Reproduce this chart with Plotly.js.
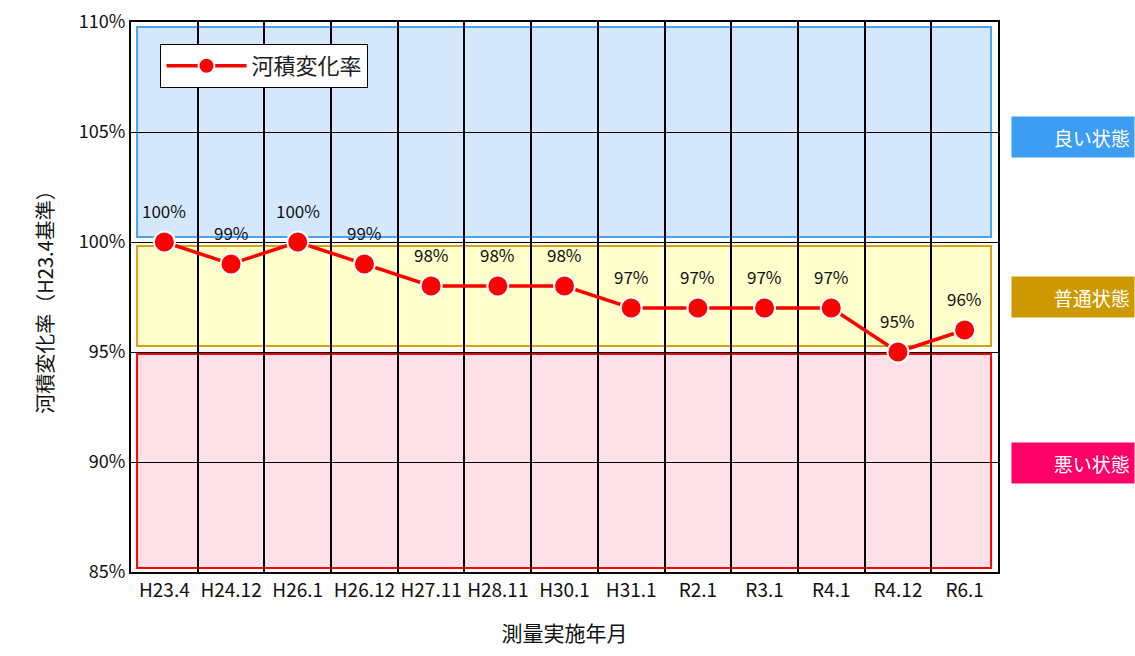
<!DOCTYPE html>
<html><head><meta charset="utf-8">
<script src="https://cdn.plot.ly/plotly-3.0.1.min.js"></script>
<style>html,body{margin:0;padding:0;background:#fff}#chart{width:1135px;height:656px}</style>
</head><body><div id="chart"></div>
<script>
const categories = ["H23.4","H24.12","H26.1","H26.12","H27.11","H28.11","H30.1","H31.1","R2.1","R3.1","R4.1","R4.12","R6.1"];
const rateValues = [100,99,100,99,98,98,98,97,97,97,97,95,96];
const seriesName = "河積変化率";
const stateLabels = ["良い状態","普通状態","悪い状態"];
const stateColors = ["#3d9df2","#cc9900","#ff0066"];
const FONT = "'Noto Sans CJK JP', 'Noto Sans', sans-serif";

const trace = {
  x: categories, y: rateValues, name: seriesName, type: "scatter", mode: "lines+markers",
  line: {color: "#ff0000", width: 3.5},
  marker: {color: "#ff0000", size: 21, line: {color: "#ffffff", width: 2}},
  cliponaxis: false
};

const labelAnns = categories.map((c,i)=>({
  x: c, y: rateValues[i], xref: "x", yref: "y", text: rateValues[i] + "%",
  showarrow: false, yshift: 32, font: {family: FONT, size: 17, color: "#111"}
}));

const stateY = [0.791, 0.5, 0.198];
const stateAnns = stateLabels.map((t,i)=>({
  xref: "paper", yref: "paper", x: 1.158, y: stateY[i], xanchor: "right", yanchor: "middle",
  text: t + " ", showarrow: false, bgcolor: stateColors[i], width: 122, height: 40, borderpad: 0,
  align: "right", font: {family: FONT, size: 19, color: "#ffffff"}
}));

const bands = [
  {y0: 100.23, y1: 109.77, fill: "#d5e8fb", line: "#4aa3f2"},
  {y0: 95.27, y1: 99.82, fill: "#ffffcc", line: "#d4a30f"},
  {y0: 85.18, y1: 94.91, fill: "#fde0e8", line: "#ff0000"}
];
const shapes = bands.map(b=>({
  type: "rect", xref: "paper", yref: "y", x0: 0.007, x1: 0.992, y0: b.y0, y1: b.y1,
  fillcolor: b.fill, line: {color: b.line, width: 2}, layer: "below"
}));

const layout = {
  width: 1135, height: 656,
  margin: {l: 131, r: 137, t: 22, b: 84},
  paper_bgcolor: "#ffffff", plot_bgcolor: "#ffffff",
  font: {family: FONT, size: 18, color: "#111"},
  showlegend: true,
  legend: {x: 0.034, y: 0.96, xanchor: "left", yanchor: "top", bgcolor: "#ffffff",
    bordercolor: "#000000", borderwidth: 1, font: {family: FONT, size: 22, color: "#222"},
    itemwidth: 80, tracegroupgap: 0},
  xaxis: {
    type: "category", tickson: "boundaries", showgrid: true, gridcolor: "#000000", gridwidth: 2,
    ticks: "", showline: true, linecolor: "#000000", linewidth: 2, mirror: true, tickangle: 0,
    tickfont: {family: FONT, size: 19, color: "#111"}, range: [-0.5, 12.5],
    title: {text: "測量実施年月", font: {family: FONT, size: 21, color: "#111"}, standoff: 26}
  },
  yaxis: {
    range: [85, 110], dtick: 5, tick0: 85, ticksuffix: "%", showgrid: true, gridcolor: "#000000", gridwidth: 1,
    zeroline: false, ticks: "", showline: true, linecolor: "#000000", linewidth: 2, mirror: true,
    tickfont: {family: FONT, size: 18, color: "#111"},
    title: {text: "河積変化率（H23.4基準）", font: {family: FONT, size: 20, color: "#111"}, standoff: 20}
  },
  shapes: shapes,
  annotations: labelAnns.concat(stateAnns)
};

Plotly.newPlot("chart", [trace], layout, {displayModeBar: false, responsive: false});
</script></body></html>
